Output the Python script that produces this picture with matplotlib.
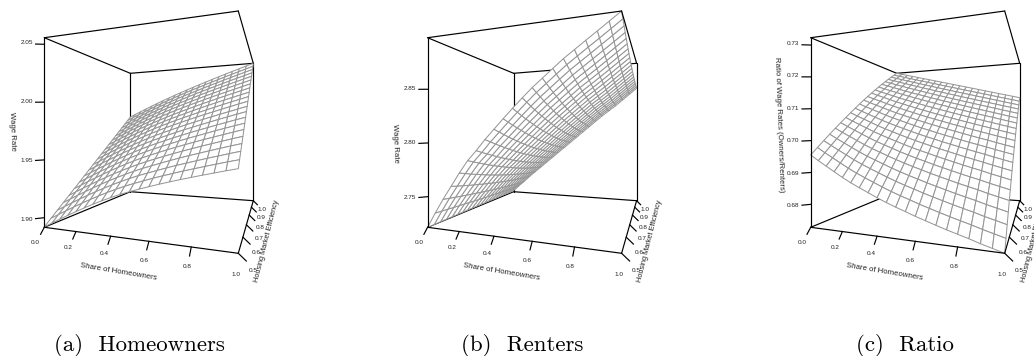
import numpy as np
import matplotlib
matplotlib.use("Agg")
import matplotlib.pyplot as plt
from matplotlib.collections import PolyCollection

plt.rcParams["font.family"] = ["Liberation Sans", "DejaVu Sans"]

# ------------------------------------------------------------------
# data
# rows: efficiency 0.5 -> 1.0, columns: share of homeowners 0 -> 1
# ------------------------------------------------------------------
share = [i / 20 for i in range(21)]
efficiency = [0.5 + i / 40 for i in range(21)]

wage_owners = np.array([
    [18920,18962,19003,19043,19082,19120,19156,19190,19222,19252,19279,19304,19328,19351,19373,19394,19414,19434,19453,19472,19490],
    [18972,19013,19054,19094,19133,19170,19206,19240,19272,19302,19329,19354,19379,19402,19424,19446,19466,19486,19506,19525,19543],
    [19023,19065,19105,19145,19183,19221,19256,19290,19322,19352,19380,19405,19429,19453,19476,19497,19518,19539,19558,19578,19597],
    [19075,19116,19156,19195,19234,19271,19307,19340,19372,19402,19430,19455,19480,19504,19527,19549,19570,19591,19611,19631,19650],
    [19126,19167,19207,19246,19284,19321,19357,19390,19422,19452,19480,19506,19531,19555,19578,19600,19622,19643,19663,19684,19703],
    [19178,19218,19258,19297,19335,19372,19407,19441,19473,19503,19530,19556,19582,19606,19629,19652,19674,19695,19716,19737,19757],
    [19229,19270,19309,19348,19385,19422,19457,19491,19523,19553,19581,19607,19632,19657,19681,19703,19725,19748,19769,19790,19810],
    [19281,19321,19360,19398,19436,19472,19507,19541,19573,19603,19631,19657,19683,19708,19732,19755,19777,19800,19821,19843,19863],
    [19332,19372,19411,19449,19486,19523,19558,19591,19623,19653,19681,19708,19734,19759,19783,19806,19829,19852,19874,19896,19917],
    [19384,19423,19462,19500,19537,19573,19608,19641,19673,19703,19731,19758,19784,19810,19834,19858,19881,19904,19926,19948,19970],
    [19435,19475,19513,19551,19587,19624,19658,19691,19723,19753,19782,19809,19835,19861,19886,19910,19933,19957,19979,20002,20024],
    [19487,19526,19564,19601,19638,19674,19708,19741,19773,19803,19832,19859,19886,19911,19937,19961,19985,20009,20032,20054,20077],
    [19538,19577,19615,19652,19689,19724,19758,19791,19823,19853,19882,19909,19936,19962,19988,20013,20037,20061,20084,20107,20130],
    [19590,19628,19666,19703,19739,19775,19809,19841,19873,19903,19932,19960,19987,20013,20039,20064,20089,20113,20137,20160,20184],
    [19641,19680,19717,19754,19790,19825,19859,19891,19923,19953,19983,20010,20038,20064,20090,20116,20141,20165,20189,20213,20237],
    [19693,19731,19768,19804,19840,19875,19909,19942,19974,20004,20033,20061,20088,20115,20142,20167,20193,20218,20242,20266,20290],
    [19744,19782,19819,19855,19891,19926,19959,19992,20024,20054,20083,20111,20139,20166,20193,20219,20244,20270,20295,20319,20344],
    [19796,19833,19870,19906,19941,19976,20009,20042,20074,20104,20133,20162,20190,20217,20244,20270,20296,20322,20347,20372,20397],
    [19847,19885,19921,19957,19992,20026,20060,20092,20124,20154,20184,20212,20240,20268,20295,20322,20348,20374,20400,20425,20450],
    [19899,19936,19972,20007,20042,20077,20110,20142,20174,20204,20234,20263,20291,20319,20347,20373,20400,20426,20452,20478,20504],
    [19950,19987,20023,20058,20093,20127,20160,20192,20224,20254,20284,20313,20342,20370,20398,20425,20452,20479,20505,20531,20557],
]) / 1e4

wage_renters = np.array([
    [27215,27356,27489,27612,27736,27849,27939,28036,28124,28212,28297,28380,28459,28530,28601,28671,28733,28795,28856,28918,28980],
    [27216,27352,27480,27600,27720,27830,27918,28013,28100,28186,28270,28353,28431,28502,28573,28643,28705,28768,28829,28892,28955],
    [27217,27349,27472,27588,27704,27811,27898,27991,28077,28162,28245,28326,28404,28475,28546,28616,28679,28741,28804,28867,28931],
    [27218,27345,27464,27577,27689,27793,27879,27970,28054,28138,28220,28301,28378,28449,28520,28591,28653,28716,28779,28843,28907],
    [27219,27342,27457,27567,27675,27776,27860,27950,28033,28116,28197,28276,28353,28424,28496,28566,28629,28691,28755,28820,28885],
    [27220,27339,27449,27557,27661,27759,27843,27930,28012,28094,28174,28253,28330,28401,28472,28542,28605,28668,28733,28798,28864],
    [27221,27336,27443,27547,27648,27744,27826,27912,27993,28074,28153,28231,28307,28378,28449,28520,28583,28646,28711,28777,28843],
    [27222,27333,27436,27538,27636,27729,27810,27894,27974,28054,28133,28210,28285,28356,28428,28498,28561,28625,28691,28757,28824],
    [27223,27330,27430,27529,27624,27715,27794,27877,27956,28035,28113,28190,28265,28336,28407,28478,28541,28605,28671,28738,28805],
    [27224,27328,27424,27520,27613,27701,27780,27861,27940,28017,28095,28171,28245,28316,28388,28459,28522,28586,28653,28720,28788],
    [27225,27325,27418,27513,27602,27688,27766,27846,27924,28001,28077,28152,28227,28298,28370,28440,28504,28567,28635,28703,28771],
    [27225,27323,27413,27505,27592,27676,27753,27832,27909,27985,28061,28136,28210,28281,28352,28423,28486,28551,28619,28687,28756],
    [27226,27321,27408,27498,27583,27665,27741,27819,27895,27970,28046,28120,28193,28264,28336,28407,28470,28535,28603,28672,28741],
    [27227,27319,27403,27492,27574,27655,27730,27806,27882,27956,28031,28105,28178,28249,28321,28392,28455,28520,28589,28658,28728],
    [27227,27317,27399,27486,27566,27645,27719,27795,27870,27944,28018,28091,28164,28235,28307,28378,28441,28506,28575,28645,28715],
    [27228,27315,27395,27480,27558,27636,27710,27784,27858,27932,28005,28078,28151,28222,28294,28365,28429,28493,28563,28633,28703],
    [27228,27314,27391,27475,27551,27628,27701,27774,27848,27921,27994,28066,28139,28210,28282,28353,28417,28481,28551,28622,28692],
    [27229,27312,27388,27470,27545,27620,27693,27765,27839,27911,27984,28056,28128,28199,28271,28342,28406,28471,28541,28612,28683],
    [27229,27311,27385,27466,27539,27613,27685,27757,27830,27902,27975,28046,28118,28189,28261,28332,28396,28461,28532,28603,28674],
    [27230,27310,27382,27462,27534,27607,27679,27750,27823,27894,27966,28038,28110,28181,28253,28324,28388,28453,28523,28595,28666],
    [27230,27309,27380,27459,27530,27602,27673,27744,27816,27887,27959,28030,28102,28173,28245,28316,28380,28445,28516,28588,28659],
]) / 1e4

wage_ratio = np.array([
    [69550,69380,69221,69062,68903,68760,68631,68506,68381,68267,68161,68063,67961,67870,67779,67691,67609,67530,67439,67360,67280],
    [69769,69605,69451,69297,69143,69004,68878,68756,68634,68522,68418,68322,68221,68131,68041,67954,67873,67794,67704,67625,67545],
    [69984,69826,69676,69528,69378,69244,69121,69002,68883,68774,68671,68576,68477,68388,68299,68213,68132,68053,67964,67886,67806],
    [70196,70043,69898,69754,69610,69479,69360,69244,69127,69020,68920,68826,68729,68641,68553,68467,68386,68308,68220,68142,68063],
    [70404,70256,70117,69977,69838,69711,69594,69481,69368,69263,69164,69072,68976,68889,68802,68717,68637,68559,68471,68394,68315],
    [70608,70466,70331,70196,70061,69938,69825,69714,69604,69501,69404,69313,69219,69133,69046,68962,68882,68805,68718,68641,68562],
    [70809,70671,70541,70411,70281,70162,70051,69943,69836,69735,69640,69550,69457,69372,69287,69203,69124,69046,68961,68884,68805],
    [71005,70873,70748,70622,70496,70381,70273,70168,70063,69965,69871,69783,69691,69607,69522,69440,69361,69284,69199,69122,69044],
    [71199,71072,70950,70829,70708,70596,70491,70389,70286,70190,70098,70011,69921,69838,69754,69672,69593,69516,69433,69356,69278],
    [71388,71266,71149,71033,70915,70807,70705,70605,70505,70411,70321,70235,70146,70064,69981,69900,69821,69745,69662,69585,69508],
    [71574,71457,71344,71232,71119,71014,70915,70818,70720,70628,70539,70454,70367,70286,70203,70123,70045,69969,69887,69810,69733],
    [71756,71644,71535,71427,71318,71217,71120,71026,70931,70841,70753,70670,70584,70503,70422,70342,70264,70188,70107,70031,69954],
    [71935,71827,71722,71618,71514,71416,71321,71230,71137,71049,70963,70881,70796,70716,70635,70556,70479,70403,70323,70247,70170],
    [72109,72006,71906,71806,71705,71610,71519,71429,71339,71253,71168,71087,71004,70925,70845,70766,70689,70614,70534,70458,70382],
    [72281,72182,72085,71989,71893,71801,71712,71625,71537,71452,71369,71289,71207,71129,71050,70972,70895,70820,70741,70666,70589],
    [72448,72354,72261,72169,72076,71987,71901,71816,71730,71648,71566,71487,71406,71329,71250,71173,71097,71022,70943,70868,70792],
    [72612,72522,72433,72344,72255,72170,72085,72003,71919,71839,71759,71681,71601,71524,71446,71370,71294,71219,71141,71067,70991],
    [72772,72686,72600,72516,72430,72348,72266,72186,72104,72026,71947,71870,71791,71715,71638,71562,71487,71412,71335,71260,71185],
    [72928,72846,72764,72684,72602,72522,72443,72364,72285,72208,72130,72054,71977,71902,71826,71750,71675,71600,71524,71450,71374],
    [73081,73003,72925,72847,72769,72692,72615,72539,72462,72386,72310,72235,72159,72084,72009,71934,71859,71784,71709,71635,71559],
    [73230,73156,73081,73007,72932,72858,72783,72709,72634,72560,72485,72411,72336,72262,72187,72113,72038,71964,71889,71815,71740],
]) / 1e5

z_ranges = [(1.8917, 2.0557), (2.7215, 2.898), (0.6728, 0.7323)]
z_ticks = [[1.90, 1.95, 2.00, 2.05], [2.75, 2.80, 2.85], [0.68, 0.69, 0.70, 0.71, 0.72, 0.73]]
z_labels = ["Wage Rate", "Wage Rate", "Ratio of Wage Rates (Owners/Renters)"]
captions = ["(a)  Homeowners", "(b)  Renters", "(c)  Ratio"]
x_ticks = [0.0, 0.2, 0.4, 0.6, 0.8]
y_ticks = [0.5, 0.6, 0.7, 0.8, 0.9, 1.0]

# box corners on screen (pixels), order: (x0,y0) (x1,y0) (x1,y1) (x0,y1)
corners_x = [44.3, 238.3, 253.3, 130.3]
corners_bottom = [227.3, 253.3, 200.7, 191.7]
corners_top = [37.7, 11.0, 63.3, 73.3]
panel_shift = [0, 383.3, 766.4]
caption_x = [139.3, 522, 905]
z_label_y = [131, 143, 124.3]

LINE = 0.85
TICK_FS = 4.6
LABEL_FS = 5.6
TEXT_COLOR = "#222222"


def homography(xs, ys):
    src = [(0, 0), (1, 0), (1, 1), (0, 1)]
    A, b = [], []
    for (u, v), sx, sy in zip(src, xs, ys):
        A.append([u, v, 1, 0, 0, 0, -u * sx, -v * sx])
        A.append([0, 0, 0, u, v, 1, -u * sy, -v * sy])
        b += [sx, sy]
    return np.append(np.linalg.solve(np.array(A, float), np.array(b, float)), 1).reshape(3, 3)


H_bot = homography(corners_x, corners_bottom)
H_top = homography(corners_x, corners_top)


def warp(H, u, v):
    w = H[2, 0] * u + H[2, 1] * v + H[2, 2]
    return (H[0, 0] * u + H[0, 1] * v + H[0, 2]) / w, (H[1, 0] * u + H[1, 1] * v + H[1, 2]) / w


def project(x, y, t):
    # x in 0-1, y in 0.5-1, t = height in the box 0-1
    u, v = np.asarray(x, float), (np.asarray(y, float) - 0.5) / 0.5
    sx, sb = warp(H_bot, u, v)
    _, st = warp(H_top, u, v)
    return sx, sb + (st - sb) * np.asarray(t, float)


fig = plt.figure(figsize=(10.34, 3.56), dpi=100)
ax = fig.add_axes([0, 0, 1, 1])
ax.set_xlim(0, 1034)
ax.set_ylim(356, 0)
ax.axis("off")


def seg(dx, a, b, z):
    # one box edge between two (x, y, t) points
    p, q = project(*a), project(*b)
    ax.plot([p[0] + dx, q[0] + dx], [p[1], q[1]], color="black", lw=LINE, solid_capstyle="round", zorder=z)


surfaces = [wage_owners, wage_renters, wage_ratio]
for k, Z in enumerate(surfaces):
    dx = panel_shift[k]
    zmin, zmax = z_ranges[k]

    # back of the box first, the surface paints over it
    seg(dx, (0, 1, 0), (0, 1, 1), 1)
    seg(dx, (1, 1, 0), (1, 1, 1), 1)
    seg(dx, (0, 0.5, 0), (0, 1, 0), 1)
    seg(dx, (0, 1, 0), (1, 1, 0), 1)
    seg(dx, (0, 0.5, 1), (0, 1, 1), 1)
    seg(dx, (0, 1, 1), (1, 1, 1), 1)

    X, Y = np.meshgrid(share, efficiency)
    sx, sy = project(X, Y, (Z - zmin) / (zmax - zmin))
    polys = []
    for j in range(len(efficiency) - 2, -1, -1):
        for i in range(len(share) - 1):
            polys.append([(sx[j, i] + dx, sy[j, i]), (sx[j, i + 1] + dx, sy[j, i + 1]),
                          (sx[j + 1, i + 1] + dx, sy[j + 1, i + 1]), (sx[j + 1, i] + dx, sy[j + 1, i])])
    ax.add_collection(PolyCollection(polys, facecolors="white", edgecolors="#959595", linewidths=0.72, zorder=2))

    # front edges and axes
    seg(dx, (0, 0.5, 0), (0, 0.5, 1), 3)
    seg(dx, (0, 0.5, 1), (1, 0.5, 1), 3)
    seg(dx, (1, 0.5, 1), (1, 1, 1), 3)
    seg(dx, (0, 0.5, 0), (1, 0.5, 0), 3)
    seg(dx, (1, 0.5, 0), (1, 1, 0), 3)

    for z in z_ticks[k]:
        t = (z - zmin) / (zmax - zmin)
        px, py = project(0, 0.5, t)
        ax.plot([px + dx, px + dx - 8.7], [py, py + 1 - 1.3 * t], color="black", lw=LINE, zorder=3)
        ax.text(px + dx - 17.8, py + 1.6 - 3.6 * t, f"{z:.2f}", fontsize=TICK_FS, ha="center", va="center", color=TEXT_COLOR)

    for x in x_ticks:
        px, py = project(x, 0.5, 0)
        ax.plot([px + dx, px + dx - 3.7 + 2.5 * x], [py, py + 7 + 2.5 * x], color="black", lw=LINE, zorder=3)
    for x in x_ticks + [1.0]:
        px, py = project(x, 0.5, 0)
        ax.text(px + dx - 8.7 + 6 * x, py + 15.3 + 5.7 * x, f"{x:.1f}", fontsize=TICK_FS, ha="center", va="center", color=TEXT_COLOR)

    for y in y_ticks:
        v = (y - 0.5) / 0.5
        px, py = project(1, y, 0)
        ax.plot([px + dx, px + dx + 8 - 4 * v], [py, py + 7.7 - 3.7 * v], color="black", lw=LINE, zorder=3)
        ax.text(px + dx + 14.7 - 6 * v, py + 17.3 - 8.6 * v, f"{y:.1f}", fontsize=TICK_FS, ha="center", va="center", color=TEXT_COLOR)

    ax.text(118.5 + dx, 272, "Share of Homeowners", fontsize=LABEL_FS, rotation=-9.5,
            rotation_mode="anchor", ha="center", va="center", color=TEXT_COLOR)
    ax.text(267 + dx, 241, "Housing Market Efficiency", fontsize=5.3, rotation=76,
            rotation_mode="anchor", ha="center", va="center", color=TEXT_COLOR)
    ax.text(12 + dx, z_label_y[k], z_labels[k], fontsize=LABEL_FS, rotation=-88,
            rotation_mode="anchor", ha="center", va="center", color=TEXT_COLOR)

    ax.text(caption_x[k], 351, captions[k], fontsize=16.5, family="cmr10", ha="center", va="baseline")

fig.savefig("out.png", dpi=100)
